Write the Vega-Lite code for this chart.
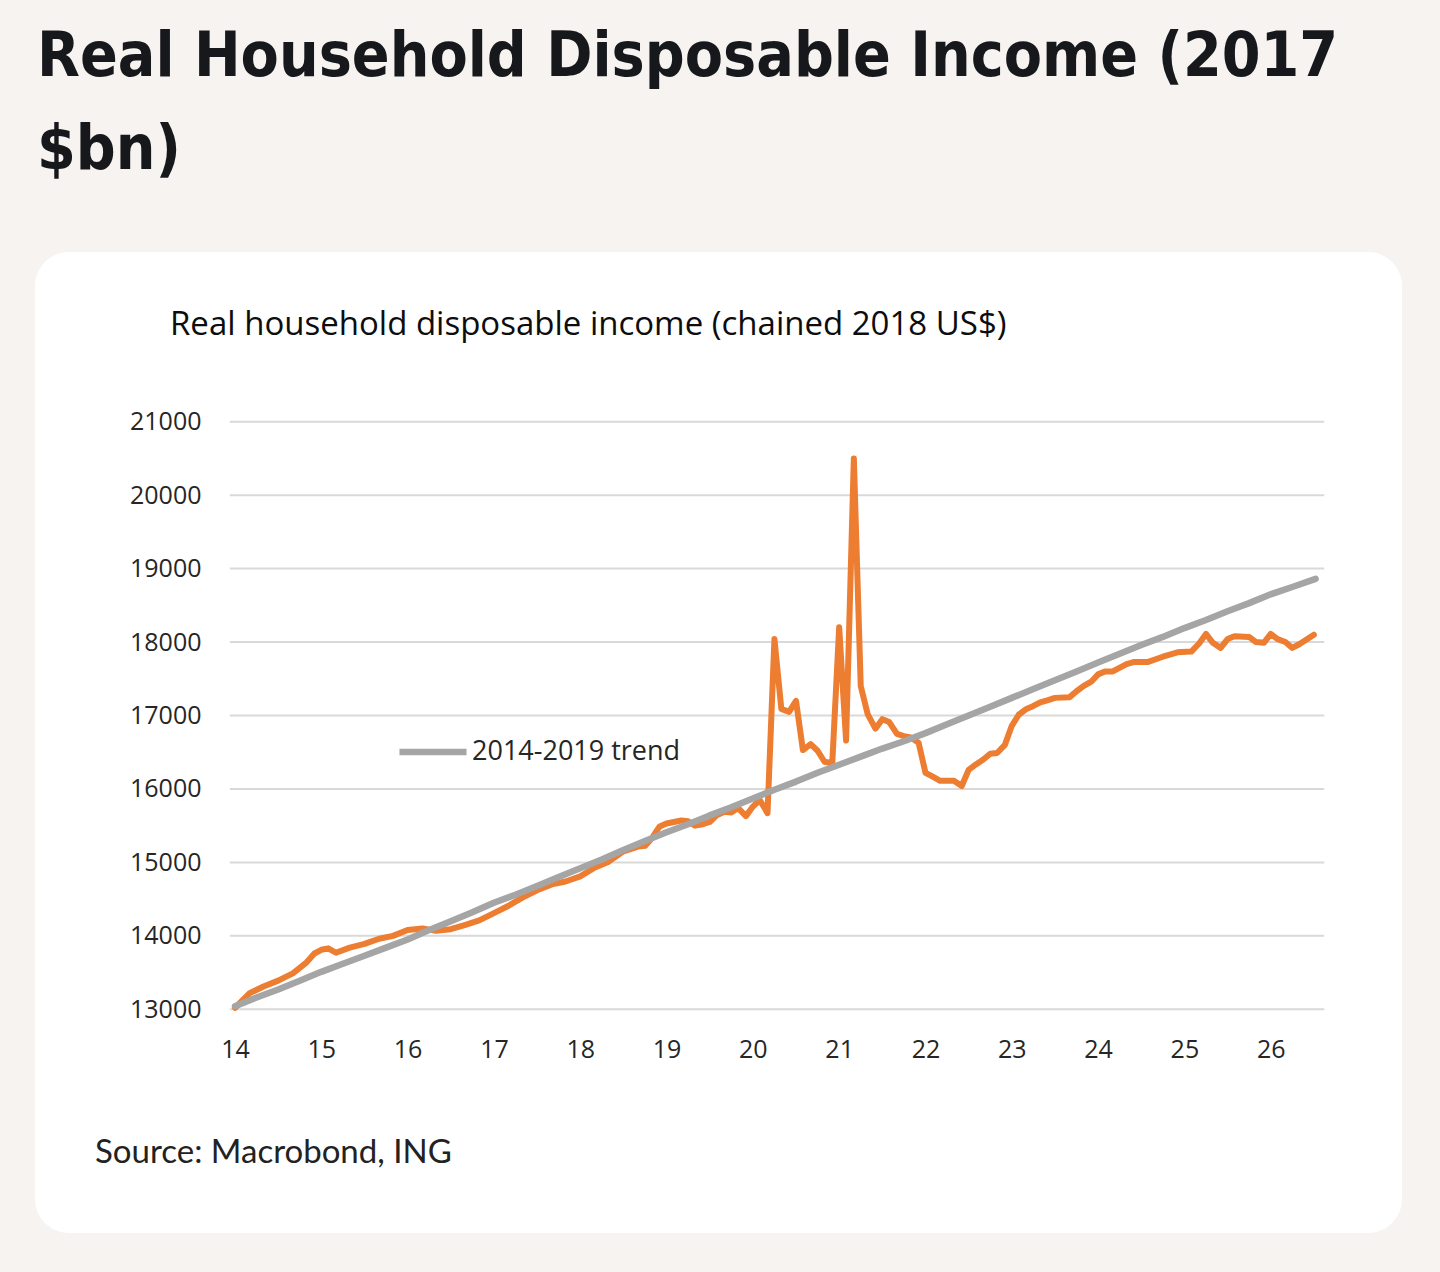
{
  "$schema": "https://vega.github.io/schema/vega-lite/v6.json",
  "description": "Real household disposable income vs 2014-2019 trend",
  "width": 1367,
  "height": 981,
  "autosize": "none",
  "padding": {"left": 35, "top": 252, "right": 38, "bottom": 39},
  "background": "#f7f3f0",
  "title": {
    "text": ["Real Household Disposable Income (2017", "$bn)"],
    "anchor": "start",
    "frame": "group",
    "font": "DejaVu Sans Condensed, Liberation Sans Narrow, Roboto, sans-serif",
    "fontSize": 62,
    "fontWeight": "bold",
    "color": "#16181c",
    "lineHeight": 93,
    "baseline": "alphabetic",
    "offset": 21,
    "dx": 2
  },
  "config": {
    "view": {"fill": "white", "stroke": null, "cornerRadius": 34},
    "axis": {
      "labelFont": "Open Sans",
      "labelFontSize": 25,
      "labelColor": "#262626",
      "domain": false,
      "ticks": false,
      "tickSize": 0,
      "grid": false,
      "title": null
    }
  },
  "datasets": {
    "actual": [
      {"year": 14.00, "value": 13020},
      {"year": 14.17, "value": 13220},
      {"year": 14.33, "value": 13310},
      {"year": 14.50, "value": 13390},
      {"year": 14.67, "value": 13490},
      {"year": 14.83, "value": 13640},
      {"year": 14.92, "value": 13760},
      {"year": 15.00, "value": 13810},
      {"year": 15.08, "value": 13830},
      {"year": 15.17, "value": 13770},
      {"year": 15.33, "value": 13840},
      {"year": 15.50, "value": 13890},
      {"year": 15.67, "value": 13960},
      {"year": 15.83, "value": 14000},
      {"year": 16.00, "value": 14080},
      {"year": 16.17, "value": 14100},
      {"year": 16.33, "value": 14070},
      {"year": 16.50, "value": 14090},
      {"year": 16.67, "value": 14150},
      {"year": 16.83, "value": 14210},
      {"year": 17.00, "value": 14310},
      {"year": 17.17, "value": 14410},
      {"year": 17.33, "value": 14520},
      {"year": 17.50, "value": 14620},
      {"year": 17.67, "value": 14700},
      {"year": 17.83, "value": 14740},
      {"year": 18.00, "value": 14810},
      {"year": 18.17, "value": 14930},
      {"year": 18.33, "value": 15010},
      {"year": 18.50, "value": 15150},
      {"year": 18.67, "value": 15215},
      {"year": 18.75, "value": 15225},
      {"year": 18.83, "value": 15330},
      {"year": 18.92, "value": 15490},
      {"year": 19.00, "value": 15530},
      {"year": 19.17, "value": 15570},
      {"year": 19.25, "value": 15560},
      {"year": 19.33, "value": 15500},
      {"year": 19.42, "value": 15520},
      {"year": 19.50, "value": 15550},
      {"year": 19.58, "value": 15640},
      {"year": 19.67, "value": 15690},
      {"year": 19.75, "value": 15680},
      {"year": 19.83, "value": 15740},
      {"year": 19.92, "value": 15630},
      {"year": 20.00, "value": 15760},
      {"year": 20.08, "value": 15850},
      {"year": 20.17, "value": 15670},
      {"year": 20.25, "value": 18040},
      {"year": 20.33, "value": 17090},
      {"year": 20.42, "value": 17050},
      {"year": 20.50, "value": 17200},
      {"year": 20.58, "value": 16530},
      {"year": 20.67, "value": 16610},
      {"year": 20.75, "value": 16520},
      {"year": 20.83, "value": 16370},
      {"year": 20.92, "value": 16350},
      {"year": 21.00, "value": 18200},
      {"year": 21.08, "value": 16660},
      {"year": 21.17, "value": 20500},
      {"year": 21.25, "value": 17400},
      {"year": 21.33, "value": 17020},
      {"year": 21.42, "value": 16820},
      {"year": 21.50, "value": 16950},
      {"year": 21.58, "value": 16910},
      {"year": 21.67, "value": 16750},
      {"year": 21.75, "value": 16720},
      {"year": 21.83, "value": 16700},
      {"year": 21.92, "value": 16630},
      {"year": 22.00, "value": 16220},
      {"year": 22.08, "value": 16170},
      {"year": 22.17, "value": 16110},
      {"year": 22.25, "value": 16110},
      {"year": 22.33, "value": 16110},
      {"year": 22.42, "value": 16040},
      {"year": 22.50, "value": 16260},
      {"year": 22.58, "value": 16330},
      {"year": 22.67, "value": 16400},
      {"year": 22.75, "value": 16480},
      {"year": 22.83, "value": 16490},
      {"year": 22.92, "value": 16600},
      {"year": 23.00, "value": 16860},
      {"year": 23.08, "value": 17010},
      {"year": 23.17, "value": 17090},
      {"year": 23.25, "value": 17130},
      {"year": 23.33, "value": 17180},
      {"year": 23.42, "value": 17210},
      {"year": 23.50, "value": 17240},
      {"year": 23.67, "value": 17250},
      {"year": 23.75, "value": 17330},
      {"year": 23.83, "value": 17400},
      {"year": 23.92, "value": 17460},
      {"year": 24.00, "value": 17560},
      {"year": 24.08, "value": 17600},
      {"year": 24.17, "value": 17600},
      {"year": 24.33, "value": 17700},
      {"year": 24.42, "value": 17730},
      {"year": 24.58, "value": 17730},
      {"year": 24.75, "value": 17800},
      {"year": 24.92, "value": 17860},
      {"year": 25.08, "value": 17870},
      {"year": 25.17, "value": 17980},
      {"year": 25.25, "value": 18110},
      {"year": 25.33, "value": 17990},
      {"year": 25.42, "value": 17920},
      {"year": 25.50, "value": 18040},
      {"year": 25.58, "value": 18080},
      {"year": 25.75, "value": 18070},
      {"year": 25.83, "value": 18000},
      {"year": 25.92, "value": 17990},
      {"year": 26.00, "value": 18110},
      {"year": 26.08, "value": 18040},
      {"year": 26.17, "value": 18000},
      {"year": 26.25, "value": 17920},
      {"year": 26.33, "value": 17970},
      {"year": 26.50, "value": 18100}
    ],
    "trend": [
      {"year": 14.00, "value": 13040},
      {"year": 14.25, "value": 13160},
      {"year": 14.50, "value": 13270},
      {"year": 14.75, "value": 13390},
      {"year": 15.00, "value": 13510},
      {"year": 15.25, "value": 13620},
      {"year": 15.50, "value": 13730},
      {"year": 15.75, "value": 13840},
      {"year": 16.00, "value": 13950},
      {"year": 16.25, "value": 14080},
      {"year": 16.50, "value": 14200},
      {"year": 16.75, "value": 14320},
      {"year": 17.00, "value": 14450},
      {"year": 17.25, "value": 14560},
      {"year": 17.50, "value": 14680},
      {"year": 17.75, "value": 14800},
      {"year": 18.00, "value": 14920},
      {"year": 18.25, "value": 15040},
      {"year": 18.50, "value": 15170},
      {"year": 18.75, "value": 15290},
      {"year": 19.00, "value": 15410},
      {"year": 19.25, "value": 15520},
      {"year": 19.50, "value": 15640},
      {"year": 19.75, "value": 15750},
      {"year": 20.00, "value": 15870},
      {"year": 20.25, "value": 15990},
      {"year": 20.50, "value": 16100},
      {"year": 20.75, "value": 16220},
      {"year": 21.00, "value": 16330},
      {"year": 21.25, "value": 16440},
      {"year": 21.50, "value": 16550},
      {"year": 21.75, "value": 16650},
      {"year": 22.00, "value": 16760},
      {"year": 22.25, "value": 16880},
      {"year": 22.50, "value": 17000},
      {"year": 22.75, "value": 17120},
      {"year": 23.00, "value": 17240},
      {"year": 23.25, "value": 17360},
      {"year": 23.50, "value": 17480},
      {"year": 23.75, "value": 17600},
      {"year": 24.00, "value": 17720},
      {"year": 24.25, "value": 17840},
      {"year": 24.50, "value": 17960},
      {"year": 24.75, "value": 18070},
      {"year": 25.00, "value": 18190},
      {"year": 25.25, "value": 18300},
      {"year": 25.50, "value": 18420},
      {"year": 25.75, "value": 18530},
      {"year": 26.00, "value": 18650},
      {"year": 26.25, "value": 18750},
      {"year": 26.52, "value": 18860}
    ],
    "grid": [
      {"value": 13000}, {"value": 14000}, {"value": 15000},
      {"value": 16000}, {"value": 17000}, {"value": 18000},
      {"value": 19000}, {"value": 20000}, {"value": 21000}
    ]
  },
  "layer": [
    {
      "data": {"name": "grid"},
      "mark": {"type": "rule", "color": "#d9d9d9", "strokeWidth": 2},
      "encoding": {
        "x": {"datum": 13.94, "type": "quantitative",
          "scale": {"domain": [11.6828, 27.5211], "nice": false, "zero": false},
          "axis": {"values": [14, 15, 16, 17, 18, 19, 20, 21, 22, 23, 24, 25, 26], "format": "d", "offset": -224, "labelPadding": 28}},
        "x2": {"datum": 26.62},
        "y": {"field": "value", "type": "quantitative",
          "scale": {"domain": [9954.4, 23310.4], "nice": false, "zero": false},
          "axis": {"values": [13000, 14000, 15000, 16000, 17000, 18000, 19000, 20000, 21000], "format": "d", "offset": -166, "labelPadding": 0}}
      }
    },
    {
      "data": {"name": "actual"},
      "mark": {"type": "line", "strokeWidth": 6, "strokeJoin": "round", "strokeCap": "round"},
      "encoding": {
        "x": {"field": "year", "type": "quantitative"},
        "y": {"field": "value", "type": "quantitative"},
        "color": {"datum": "Actual", "type": "nominal",
          "scale": {"domain": ["Actual", "2014-2019 trend"], "range": ["#ed7d31", "#a5a5a5"]},
          "legend": {
            "values": ["2014-2019 trend"],
            "title": null,
            "orient": "none",
            "legendX": 361,
            "legendY": 463,
            "symbolType": "stroke",
            "symbolSize": 4500,
            "symbolStrokeWidth": 6.5,
            "labelFont": "Open Sans",
            "labelFontSize": 27,
            "labelColor": "#262626",
            "labelOffset": 2,
            "labelLimit": 500
          }}
      }
    },
    {
      "data": {"name": "trend"},
      "mark": {"type": "line", "strokeWidth": 6.5, "strokeJoin": "round", "strokeCap": "round"},
      "encoding": {
        "x": {"field": "year", "type": "quantitative"},
        "y": {"field": "value", "type": "quantitative"},
        "color": {"datum": "2014-2019 trend", "type": "nominal"}
      }
    },
    {
      "data": {"values": [{}]},
      "mark": {"type": "text", "align": "left", "baseline": "middle", "font": "Open Sans", "fontSize": 33, "color": "#0d0d0d"},
      "encoding": {
        "x": {"datum": 13.247, "type": "quantitative"},
        "y": {"datum": 22317, "type": "quantitative"},
        "text": {"value": "Real household disposable income (chained 2018 US$)"}
      }
    },
    {
      "data": {"values": [{}]},
      "mark": {"type": "text", "align": "left", "baseline": "middle", "font": "Lato", "fontSize": 33, "color": "#222222"},
      "encoding": {
        "x": {"datum": 12.378, "type": "quantitative"},
        "y": {"datum": 11043, "type": "quantitative"},
        "text": {"value": "Source: Macrobond, ING"}
      }
    }
  ]
}
